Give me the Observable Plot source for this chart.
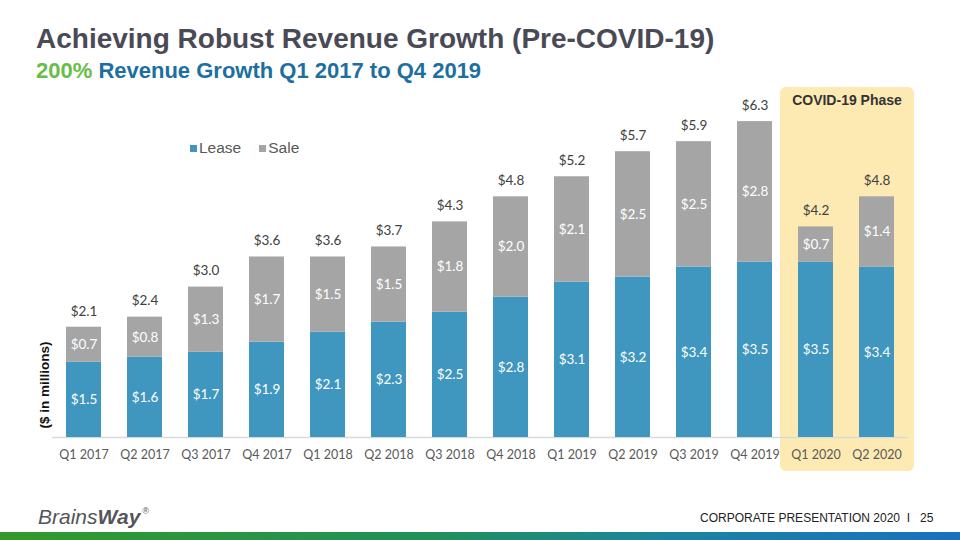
<!DOCTYPE html>
<html>
<head>
<meta charset="utf-8">
<script src="https://cdn.jsdelivr.net/npm/d3@7"></script>
<script src="https://cdn.jsdelivr.net/npm/@observablehq/plot@0.6"></script>
<style>
  html, body { margin: 0; padding: 0; background: #ffffff; }
  #page { position: relative; width: 960px; height: 540px; overflow: hidden; background: #ffffff; font-family: "Liberation Sans", Arial, sans-serif; }
  .abs { position: absolute; white-space: nowrap; }
  #title { left: 36px; top: 23px; font-size: 28px; font-weight: bold; color: #4a4a56; }
  #subtitle { left: 36px; top: 58px; font-size: 22px; font-weight: bold; color: #1d6fa0; }
  #subtitle .g { color: #67bd47; }
  #covid { background: #fdeab3; border-radius: 6px; }
  #covidTitle { font-size: 14px; font-weight: bold; color: #333333; text-align: center; }
  #chart { left: 0; top: 85px; }
  #legend { left: 190px; top: 139px; font-family: "Liberation Sans", Arial, sans-serif; font-size: 15.5px; color: #595959; }
  #legend span.sw { display: inline-block; width: 7px; height: 7px; margin-right: 2px; vertical-align: 1px; }
  #legend span.it { margin-right: 18px; }
  #ylabel { left: 44px; top: 385px; transform: translate(-50%, -50%) rotate(-90deg); font-size: 13.5px; font-weight: bold; color: #111111; }
  #logo { left: 38px; top: 505px; font-size: 21px; font-style: italic; color: #555559; font-family: "Liberation Sans", Arial, sans-serif; }
  #logo b { font-weight: bold; }
  #logo sup { font-size: 9px; font-weight: normal; vertical-align: 10px; margin-left: 2px; }
  #footer { left: 700px; top: 511px; font-size: 12px; color: #222222; }
  #bar { left: 0; top: 532px; width: 960px; height: 8px; background: linear-gradient(to right, #34992a 0%, #21905a 45%, #1a84a0 70%, #1b6fbf 100%); }
</style>
</head>
<body>
<div id="page">
  <div id="covid" class="abs"></div>
  <div id="covidTitle" class="abs">COVID-19 Phase</div>
  <div id="title" class="abs">Achieving Robust Revenue Growth (Pre-COVID-19)</div>
  <div id="subtitle" class="abs"><span class="g">200%</span> Revenue Growth Q1 2017 to Q4 2019</div>
  <div id="chart" class="abs"></div>
  <div id="legend" class="abs"></div>
  <div id="ylabel" class="abs">($ in millions)</div>
  <div id="logo" class="abs">Brains<b>Way</b><sup>®</sup></div>
  <div id="footer" class="abs">CORPORATE PRESENTATION 2020&nbsp;&nbsp;I&nbsp;&nbsp;&nbsp;25</div>
  <div id="bar" class="abs"></div>
</div>
<script>
// ---- data ----
const quarters = ["Q1 2017","Q2 2017","Q3 2017","Q4 2017","Q1 2018","Q2 2018","Q3 2018","Q4 2018","Q1 2019","Q2 2019","Q3 2019","Q4 2019","Q1 2020","Q2 2020"];
const lease  = [1.5, 1.6, 1.7, 1.9, 2.1, 2.3, 2.5, 2.8, 3.1, 3.2, 3.4, 3.5, 3.5, 3.4];
const sale   = [0.7, 0.8, 1.3, 1.7, 1.5, 1.5, 1.8, 2.0, 2.1, 2.5, 2.5, 2.8, 0.7, 1.4];
const totals = [2.1, 2.4, 3.0, 3.6, 3.6, 3.7, 4.3, 4.8, 5.2, 5.7, 5.9, 6.3, 4.2, 4.8];
const seriesNames = ["Lease", "Sale"];
const seriesColors = ["#3f96be", "#a5a5a5"];
const covidQuarters = ["Q1 2020", "Q2 2020"];

// ---- tables ----
const rows = [];
quarters.forEach((q, i) => {
  rows.push({quarter: q, type: "Lease", value: lease[i]});
  rows.push({quarter: q, type: "Sale", value: sale[i]});
});
const totalRows = quarters.map((q, i) => ({quarter: q, top: lease[i] + sale[i], total: totals[i]}));
const fmt = v => "$" + v.toFixed(1);

const chart = Plot.plot({
  width: 960,
  height: 390,
  marginLeft: 52,
  marginRight: 52,
  marginTop: 1,
  marginBottom: 38,
  style: {background: "transparent", fontFamily: "Lato, 'Open Sans', sans-serif"},
  x: {domain: quarters, paddingInner: 0.43, paddingOuter: 0.195, label: null, tickSize: 0, tickPadding: 13},
  y: {domain: [0, 7], axis: null},
  color: {domain: seriesNames, range: seriesColors},
  marks: [
    Plot.ruleY([0], {stroke: "#d9d9d9", strokeWidth: 1.5}),
    Plot.barY(rows, {x: "quarter", y: "value", fill: "type", order: seriesNames}),
    Plot.text(rows, Plot.stackY({x: "quarter", y: "value", z: "type", order: seriesNames, text: d => fmt(d.value), fill: "white", fontSize: 13.5})),
    Plot.text(totalRows, {x: "quarter", y: "top", text: d => fmt(d.total), dy: -16, fill: "#404040", fontSize: 13.5})
  ]
});
d3.select(chart).selectAll("g[aria-label='x-axis tick label'], g[aria-label='x-axis']").attr("font-size", 12.5).attr("fill", "#595959");
document.getElementById("chart").appendChild(chart);

// covid highlight placed from the x scale
const xs = chart.scale("x");
const left = xs.apply(covidQuarters[0]) - 18;
const right = xs.apply(covidQuarters[1]) + xs.bandwidth + 20;
const box = document.getElementById("covid");
box.style.left = left + "px";
box.style.top = "87px";
box.style.width = (right - left) + "px";
box.style.height = "384px";
const ct = document.getElementById("covidTitle");
ct.style.left = left + "px";
ct.style.width = (right - left) + "px";
ct.style.top = "92px";

// legend
const lg = document.getElementById("legend");
seriesNames.forEach((n, i) => {
  const s = document.createElement("span");
  s.className = "it";
  s.innerHTML = `<span class="sw" style="background:${seriesColors[i]}"></span>${n}`;
  lg.appendChild(s);
});
</script>
</body>
</html>
